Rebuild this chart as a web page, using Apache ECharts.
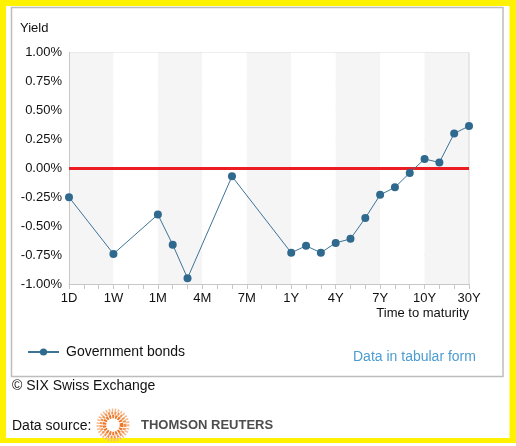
<!DOCTYPE html>
<html>
<head>
<meta charset="utf-8">
<script src="https://cdn.jsdelivr.net/npm/echarts@6/dist/echarts.min.js"></script>
<style>
  html, body { margin: 0; padding: 0; background: #fff; }
  #chart { width: 516px; height: 446px; }
</style>
</head>
<body>
<div id="chart"></div>
<script>
// maturities on the x axis; only every third one is labelled
const maturities = [
  "1D", "2D", "3D", "1W", "2W", "3W", "1M", "2M", "3M", "4M",
  "5M", "6M", "7M", "8M", "9M", "1Y", "2Y", "3Y", "4Y", "5Y",
  "6Y", "7Y", "8Y", "9Y", "10Y", "15Y", "20Y", "30Y",
];

// yields in percent, null where no bond is quoted
const yields = [
  -0.25, null, null, -0.74, null, null, -0.40, -0.66, -0.95, null,
  null, -0.07, null, null, null, -0.73, -0.67, -0.73, -0.645, -0.61,
  -0.43, -0.23, -0.165, -0.04, 0.08, 0.05, 0.30, 0.365,
];

const yTicks = {
  min: -1,
  max: 1,
  step: 0.25,
};

const font = "Liberation Sans, Arial, sans-serif";

const chart = echarts.init(document.getElementById("chart"));

chart.setOption({
  animation: false,
  textStyle: {
    fontFamily: font,
  },
  grid: {
    left: 69,
    right: 47,
    top: 52.5,
    bottom: 162,
    containLabel: false,
  },
  legend: {
    left: 22,
    top: 340,
    itemWidth: 31,
    itemHeight: 9,
    textStyle: {
      fontSize: 14,
      color: "#111",
      padding: [0, 0, 0, 2],
    },
    data: ["Government bonds"],
  },
  xAxis: {
    type: "category",
    boundaryGap: false,
    data: maturities,
    axisLine: {
      onZero: false,
      lineStyle: { color: "#c8c8c8" },
    },
    axisTick: {
      interval: 0,
      length: 5,
      lineStyle: { color: "#c8c8c8" },
    },
    axisLabel: {
      interval: 2,
      color: "#111",
      fontSize: 13,
      margin: 8,
    },
    splitLine: { show: false },
    splitArea: {
      show: true,
      interval: 2,
      areaStyle: {
        color: ["#f5f5f5", "#ffffff"],
      },
    },
  },
  yAxis: {
    type: "value",
    min: yTicks.min,
    max: yTicks.max,
    interval: yTicks.step,
    axisLine: {
      show: true,
      lineStyle: { color: "#c8c8c8" },
    },
    axisTick: { show: false },
    axisLabel: {
      color: "#111",
      fontSize: 13,
      margin: 7,
      formatter: (value) => `${value.toFixed(2)}%`,
    },
    splitLine: {
      lineStyle: { color: "#dcdcdc" },
    },
  },
  series: [
    {
      name: "Government bonds",
      type: "line",
      z: 5,
      data: yields,
      connectNulls: true,
      symbol: "circle",
      symbolSize: 8,
      showAllSymbol: true,
      lineStyle: {
        color: "#3d7396",
        width: 1,
      },
      itemStyle: {
        color: "#2f6a8e",
      },
      markLine: {
        silent: true,
        symbol: "none",
        label: { show: false },
        lineStyle: {
          color: "#ec1c24",
          width: 3,
          type: "solid",
        },
        data: [{ yAxis: 0 }],
      },
    },
  ],
  graphic: [
    {
      type: "rect",
      z: -20,
      shape: { x: 0, y: 0, width: 516, height: 443 },
      style: { fill: "#fff200" },
    },
    {
      type: "rect",
      z: -19,
      shape: { x: 6, y: 6, width: 503.5, height: 432 },
      style: { fill: "#ffffff" },
    },
    {
      type: "rect",
      z: -18,
      shape: { x: 11.5, y: 7.5, width: 491.5, height: 369 },
      style: { fill: "#ffffff", stroke: "#bdbdbd", lineWidth: 1.5 },
    },
    {
      type: "line",
      z: 1,
      shape: { x1: 469, y1: 52.5, x2: 469, y2: 284 },
      style: { stroke: "#d4d4d4", lineWidth: 1 },
    },
    {
      type: "text",
      left: 20,
      top: 22,
      style: { text: "Yield", fill: "#111", font: `13px ${font}` },
    },
    {
      type: "text",
      right: 47,
      top: 307,
      style: {
        text: "Time to maturity",
        fill: "#111",
        font: `13px ${font}`,
      },
    },
    {
      type: "text",
      left: 353,
      top: 350,
      style: {
        text: "Data in tabular form",
        fill: "#4b9cd0",
        font: `14px ${font}`,
      },
    },
    {
      type: "text",
      left: 12,
      top: 379,
      style: {
        text: "\u00a9 SIX Swiss Exchange",
        fill: "#111",
        font: `14px ${font}`,
      },
    },
    {
      type: "text",
      left: 12,
      top: 419,
      style: {
        text: "Data source:",
        fill: "#111",
        font: `14px ${font}`,
      },
    },
    // Thomson Reuters logo: a dotted orange ring
    {
      type: "circle",
      shape: { cx: 113, cy: 425, r: 15 },
      style: {
        fill: "none",
        stroke: "#f7b88a",
        lineWidth: 3,
        lineDash: [1.5, 1.5],
      },
    },
    {
      type: "circle",
      shape: { cx: 113, cy: 425, r: 12 },
      style: {
        fill: "none",
        stroke: "#f39552",
        lineWidth: 3,
        lineDash: [2, 1.2],
      },
    },
    {
      type: "circle",
      shape: { cx: 113, cy: 425, r: 8.5 },
      style: {
        fill: "none",
        stroke: "#ee7627",
        lineWidth: 3.5,
        lineDash: [2, 1],
      },
    },
    {
      type: "text",
      left: 141,
      top: 419,
      style: {
        text: "THOMSON REUTERS",
        fill: "#4d4d4d",
        font: `bold 13px ${font}`,
      },
    },
  ],
});
</script>
</body>
</html>
